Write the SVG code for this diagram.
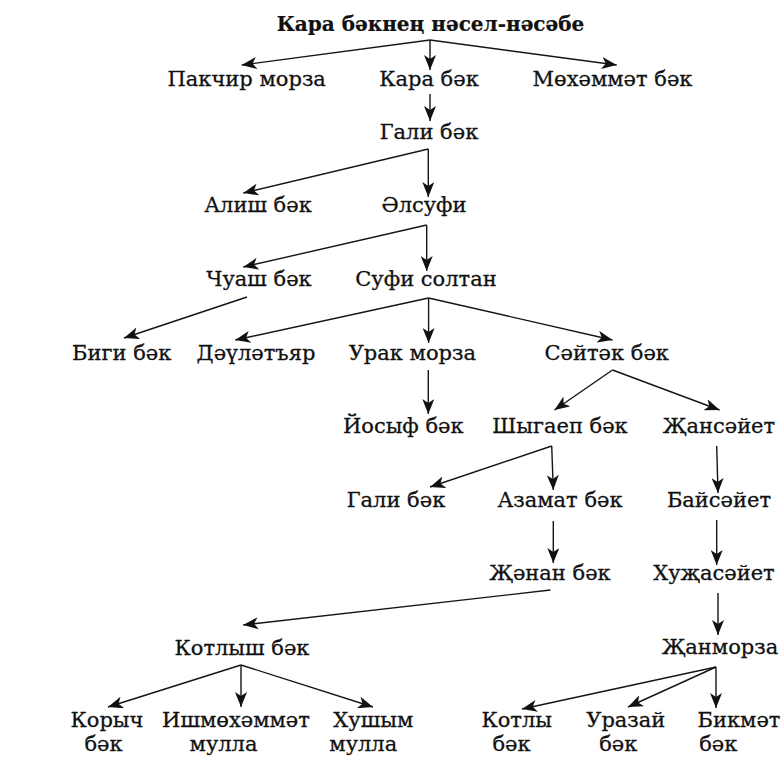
<svg xmlns="http://www.w3.org/2000/svg" width="784" height="762" viewBox="0 0 784 762">
<style>
text{font-family:"DejaVu Serif","Liberation Serif",serif;font-size:21px;fill:#111;stroke:#111;stroke-width:0.3;text-anchor:middle}
.t{font-weight:bold;font-size:20px;stroke-width:0.2}
#connectors line{stroke:#151515;stroke-width:1.4;fill:none;marker-end:url(#ah)}
</style>
<defs>
<marker id="ah" markerUnits="userSpaceOnUse" markerWidth="16" markerHeight="12" refX="15" refY="6" orient="auto">
<path d="M0,0 L15,6 L0,12 L4,6 Z" fill="#111"/>
</marker>
</defs>
<rect width="784" height="762" fill="#fff"/>
<g id="connectors">
<line x1="430" y1="40" x2="241.7" y2="65"/>
<line x1="430" y1="40" x2="430" y2="70"/>
<line x1="430" y1="40" x2="616.7" y2="65"/>
<line x1="430" y1="94" x2="430" y2="121"/>
<line x1="428.3" y1="149" x2="243.3" y2="193"/>
<line x1="428.3" y1="149" x2="428.3" y2="197"/>
<line x1="426.7" y1="225" x2="243.3" y2="267"/>
<line x1="426.7" y1="225" x2="426.7" y2="271"/>
<line x1="247" y1="297" x2="124" y2="338"/>
<line x1="428.6" y1="298" x2="235.3" y2="340"/>
<line x1="428.6" y1="298" x2="428.6" y2="343"/>
<line x1="428.6" y1="298" x2="612.5" y2="340"/>
<line x1="428.3" y1="370" x2="428.3" y2="414"/>
<line x1="612.5" y1="370" x2="554.5" y2="410"/>
<line x1="612.5" y1="370" x2="719.6" y2="410"/>
<line x1="551.7" y1="446" x2="430" y2="487"/>
<line x1="551.7" y1="446" x2="553.3" y2="490"/>
<line x1="716.7" y1="446" x2="718" y2="493"/>
<line x1="553.3" y1="521" x2="553.3" y2="563"/>
<line x1="716.7" y1="520" x2="716.7" y2="565"/>
<line x1="550.5" y1="590" x2="243.2" y2="625"/>
<line x1="718" y1="593" x2="718" y2="635"/>
<line x1="241" y1="665" x2="108" y2="707"/>
<line x1="241" y1="665" x2="241" y2="707"/>
<line x1="241" y1="665" x2="373" y2="707"/>
<line x1="716" y1="667" x2="522" y2="709"/>
<line x1="716" y1="667" x2="628" y2="707"/>
<line x1="716" y1="667" x2="716" y2="708"/>
</g>
<g id="title"><text class="t" x="430.5" y="31">Кара бәкнең нәсел-нәсәбе</text></g>
<g id="n-pakchir"><text x="246.7" y="86">Пакчир морза</text></g>
<g id="n-kara"><text x="429" y="86">Кара бәк</text></g>
<g id="n-mohammat"><text x="612.5" y="86">Мөхәммәт бәк</text></g>
<g id="n-gali1"><text x="429" y="139">Гали бәк</text></g>
<g id="n-alish"><text x="258" y="212">Алиш бәк</text></g>
<g id="n-alsufi"><text x="424" y="212">Әлсуфи</text></g>
<g id="n-chuash"><text x="259" y="286">Чуаш бәк</text></g>
<g id="n-sufi"><text x="426" y="286">Суфи солтан</text></g>
<g id="n-bigi"><text x="121.7" y="360">Биги бәк</text></g>
<g id="n-daulat"><text x="256" y="360">Дәүләтъяр</text></g>
<g id="n-urak"><text x="412.3" y="360">Урак морза</text></g>
<g id="n-saytak"><text x="606.7" y="360">Сәйтәк бәк</text></g>
<g id="n-yosif"><text x="403.3" y="433">Йосыф бәк</text></g>
<g id="n-shygaep"><text x="560" y="433">Шыгаеп бәк</text></g>
<g id="n-jansayet"><text x="719" y="433">Җансәйет</text></g>
<g id="n-gali2"><text x="396" y="507">Гали бәк</text></g>
<g id="n-azamat"><text x="560" y="507">Азамат бәк</text></g>
<g id="n-baysayet"><text x="719" y="507">Байсәйет</text></g>
<g id="n-janan"><text x="550" y="580">Җәнан бәк</text></g>
<g id="n-hujasayet"><text x="714" y="580">Хуҗасәйет</text></g>
<g id="n-kotlysh"><text x="242" y="655">Котлыш бәк</text></g>
<g id="n-janmorza"><text x="720" y="654">Җанморза</text></g>
<g id="n-korych"><text x="107" y="727">Корыч</text><text x="103.5" y="751">бәк</text></g>
<g id="n-ishmohammat"><text x="236" y="727">Ишмөхәммәт</text><text x="223.5" y="751">мулла</text></g>
<g id="n-hushym"><text x="373.3" y="727">Хушым</text><text x="363.3" y="751">мулла</text></g>
<g id="n-kotly"><text x="516.7" y="727">Котлы</text><text x="511.5" y="751">бәк</text></g>
<g id="n-urazay"><text x="625.8" y="727">Уразай</text><text x="618.3" y="751">бәк</text></g>
<g id="n-bikmat"><text x="739" y="727">Бикмәт</text><text x="718.3" y="751">бәк</text></g>
</svg>
